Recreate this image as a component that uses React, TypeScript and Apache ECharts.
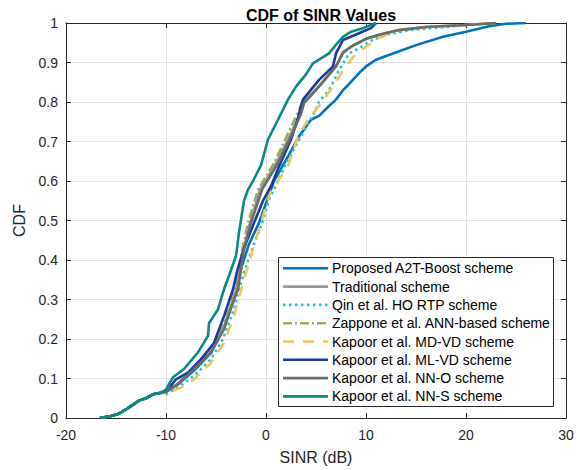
import React, { useEffect, useRef } from "react";
import * as echarts from "echarts";

const seriesNames = [
  "Proposed A2T-Boost scheme",
  "Traditional scheme",
  "Qin et al. HO RTP scheme",
  "Zappone et al. ANN-based scheme",
  "Kapoor et al. MD-VD scheme",
  "Kapoor et al. ML-VD scheme",
  "Kapoor et al. NN-O scheme",
  "Kapoor et al. NN-S scheme",
];

const xTicks = [-20, -10, 0, 10, 20, 30];
const yTicks = [0, 0.1, 0.2, 0.3, 0.4, 0.5, 0.6, 0.7, 0.8, 0.9, 1];

const lowerTail: number[][] = [
  [-16.6, 0], [-15.5, 0.005], [-14.8, 0.01], [-13.8, 0.025], [-12.7, 0.044],
  [-12, 0.05], [-11.3, 0.06], [-10.5, 0.064],
];

const proposed: number[][] = [
  ...lowerTail,
  [-10, 0.066], [-8.8, 0.085], [-7.2, 0.12], [-5.5, 0.165], [-4.2, 0.23],
  [-3.1, 0.31], [-2.6, 0.37], [-1.7, 0.44], [-0.7, 0.494], [0.8, 0.6],
  [2.2, 0.662], [3.3, 0.713], [4.5, 0.755], [5.3, 0.765], [6.3, 0.79],
  [7.0, 0.806], [7.7, 0.83], [8.3, 0.845], [9.3, 0.873], [10, 0.89],
  [11, 0.907], [12.7, 0.923], [15, 0.944], [17.7, 0.965], [20, 0.978],
  [22.3, 0.992], [24, 0.998], [26, 1],
];

const traditional: number[][] = [
  ...lowerTail,
  [-10, 0.066], [-8.8, 0.087], [-7.2, 0.125], [-5.5, 0.168], [-4.2, 0.228],
  [-3.3, 0.3], [-2.9, 0.33], [-2.3, 0.42], [-1.6, 0.494], [-0.6, 0.578],
  [1.0, 0.645], [2.4, 0.715], [3.5, 0.775], [3.8, 0.8], [5.3, 0.84],
  [7.0, 0.89], [7.7, 0.925], [8.5, 0.94], [10, 0.96], [11.3, 0.97],
  [13.3, 0.982], [16, 0.99], [20, 0.995], [23, 1],
];

const qin: number[][] = [
  ...lowerTail,
  [-10, 0.06], [-8.5, 0.082], [-7.2, 0.107], [-5.5, 0.149], [-4.3, 0.2],
  [-3.2, 0.275], [-2.2, 0.37], [-1.2, 0.44], [-0.3, 0.5], [0.3, 0.553],
  [1.2, 0.6], [2.2, 0.654], [3.5, 0.713], [4.8, 0.772], [5.3, 0.8],
  [6.3, 0.83], [7.3, 0.88], [8.3, 0.923], [9.3, 0.936], [10.5, 0.955],
  [12, 0.97], [14.3, 0.982], [19.3, 0.993], [23, 1],
];

const zappone: number[][] = [
  ...lowerTail,
  [-10, 0.066], [-8.8, 0.088], [-7.2, 0.126], [-5.6, 0.17], [-4.3, 0.23],
  [-3.4, 0.3], [-3.2, 0.326], [-2.5, 0.41], [-1.8, 0.494], [-0.8, 0.578],
  [0.8, 0.645], [2.2, 0.72], [3.5, 0.79], [5.3, 0.84], [7.0, 0.89],
  [7.7, 0.925], [8.5, 0.94], [10, 0.96], [11.3, 0.97], [13.3, 0.982],
  [16, 0.99], [20, 0.995], [23, 1],
];

const mdvd: number[][] = [
  ...lowerTail,
  [-10, 0.062], [-8.5, 0.077], [-7.2, 0.098], [-5.5, 0.14], [-4.2, 0.19],
  [-3.2, 0.258], [-2.3, 0.343], [-1.5, 0.41], [-0.5, 0.494], [0.5, 0.578],
  [1.2, 0.6], [2.2, 0.637], [3.2, 0.713], [4.2, 0.755], [5.3, 0.79],
  [6.7, 0.839], [7.7, 0.88], [9, 0.923], [10, 0.94], [11.3, 0.962],
  [13.3, 0.982], [16, 0.99], [20, 0.995], [23, 1],
];

const mlvd: number[][] = [
  ...lowerTail,
  [-10, 0.068], [-9.6, 0.075], [-9.5, 0.082], [-9, 0.098], [-7.8, 0.115],
  [-6.5, 0.149], [-5.2, 0.19], [-4.2, 0.258], [-3.3, 0.326], [-2.9, 0.37],
  [-2.2, 0.43], [-1.2, 0.494], [-0.3, 0.55], [0.5, 0.587], [1.3, 0.637],
  [2.5, 0.705], [3.2, 0.76], [3.5, 0.79], [3.7, 0.806], [5.3, 0.856],
  [6.7, 0.89], [7.0, 0.923], [7.7, 0.957], [9.3, 0.974], [10.5, 0.987],
  [11, 1],
];

const nno: number[][] = [
  ...lowerTail,
  [-10, 0.066], [-8.8, 0.086], [-7.2, 0.124], [-5.5, 0.166], [-4.2, 0.225],
  [-3.2, 0.3], [-2.8, 0.326], [-2.2, 0.427], [-1.5, 0.494], [-0.4, 0.578],
  [1.2, 0.645], [2.5, 0.713], [3.5, 0.77], [3.8, 0.797], [5.3, 0.839],
  [7.0, 0.89], [7.7, 0.925], [8.5, 0.94], [10, 0.96], [11.3, 0.97],
  [13.3, 0.982], [16, 0.99], [20, 0.995], [23, 1],
];

const nns: number[][] = [
  ...lowerTail,
  [-10, 0.072], [-9.7, 0.086], [-9.3, 0.103], [-8.2, 0.124], [-6.8, 0.166],
  [-5.8, 0.208], [-5.7, 0.24], [-4.8, 0.275], [-4.2, 0.326], [-3.7, 0.36],
  [-3.0, 0.41], [-2.7, 0.47], [-2.2, 0.55], [-1.8, 0.578], [-1.3, 0.6],
  [-0.5, 0.64], [0.2, 0.705], [1.2, 0.755], [2.2, 0.806], [3.0, 0.839],
  [4.0, 0.87], [4.7, 0.898], [6.3, 0.923], [7.0, 0.945], [7.7, 0.965],
  [8.5, 0.978], [9.7, 0.987], [11, 1],
];

const seriesData = [proposed, traditional, qin, zappone, mdvd, mlvd, nno, nns];
const seriesColors = ["#0072BD", "#9A9A9A", "#1CC6CF", "#93AE5E", "#EDC660", "#1B3A9E", "#6B6B6B", "#098A84"];
const seriesDash: any[] = ["solid", "solid", [2.5, 3.5], [9, 3, 2, 3], [11, 9], "solid", "solid", "solid"];

const FONT = "'Liberation Sans', Arial, Helvetica, sans-serif";
const AX = "#262626";

export default function App() {
  const ref = useRef<HTMLDivElement>(null);
  useEffect(() => {
    if (!ref.current) return;
    const chart = echarts.init(ref.current, undefined, { renderer: "svg" });
    const axisCommon = {
      type: "value" as const,
      axisLine: { show: true, onZero: false, lineStyle: { color: AX, width: 1 } },
      axisTick: { show: true, inside: true, length: 5, lineStyle: { color: AX } },
    };

    const legX = 278, legY = 257, legW = 275, legH = 149;
    const rowH = 18.3, row0 = 268.3;
    const legendEls: any[] = [
      {
        type: "rect",
        shape: { x: legX + 0.5, y: legY + 0.5, width: legW, height: legH },
        style: { fill: "#ffffff", stroke: AX, lineWidth: 1 },
        z: 100,
      },
    ];
    seriesNames.forEach((name, i) => {
      const cy = row0 + i * rowH;
      const dash = seriesDash[i];
      legendEls.push({
        type: "line",
        shape: { x1: 283, y1: cy, x2: 328, y2: cy },
        style: {
          stroke: seriesColors[i],
          lineWidth: 2.6,
          lineDash: Array.isArray(dash) ? dash : null,
        },
        z: 101,
      });
      legendEls.push({
        type: "text",
        x: 332,
        y: cy,
        style: {
          text: name,
          fill: "#000000",
          fontSize: 14,
          fontFamily: FONT,
          align: "left",
          verticalAlign: "middle",
        },
        z: 101,
      });
    });

    chart.setOption({
      animation: false,
      backgroundColor: "#ffffff",
      textStyle: { fontFamily: FONT },
      title: {
        text: "CDF of SINR Values",
        left: 316,
        textAlign: "center",
        top: 2,
        textStyle: { fontFamily: FONT, fontSize: 16, fontWeight: "bold", color: "#000" },
      },
      grid: { left: 66, right: 18, top: 23, bottom: 51, containLabel: false },
      xAxis: [
        {
          ...axisCommon,
          position: "bottom",
          min: xTicks[0],
          max: xTicks[xTicks.length - 1],
          interval: 10,
          name: "SINR (dB)",
          nameLocation: "middle",
          nameGap: 31,
          nameTextStyle: { fontFamily: FONT, fontSize: 16, color: AX },
          axisLabel: { color: AX, fontSize: 14, fontFamily: FONT, margin: 10 },
          splitLine: { show: true, lineStyle: { color: "#E3E3E3", width: 1 } },
        },
        {
          ...axisCommon,
          position: "top",
          min: xTicks[0],
          max: xTicks[xTicks.length - 1],
          interval: 10,
          axisLabel: { show: false },
          splitLine: { show: false },
        },
      ],
      yAxis: [
        {
          ...axisCommon,
          position: "left",
          min: yTicks[0],
          max: yTicks[yTicks.length - 1],
          interval: 0.1,
          name: "CDF",
          nameLocation: "middle",
          nameGap: 37,
          nameTextStyle: { fontFamily: FONT, fontSize: 16, color: AX },
          axisLabel: { color: AX, fontSize: 14, fontFamily: FONT, margin: 8 },
          splitLine: { show: true, lineStyle: { color: "#E3E3E3", width: 1 } },
        },
        {
          ...axisCommon,
          position: "right",
          min: yTicks[0],
          max: yTicks[yTicks.length - 1],
          interval: 0.1,
          axisLabel: { show: false },
          splitLine: { show: false },
        },
      ],
      graphic: { elements: legendEls },
      series: seriesNames.map((name, i) => ({
        name,
        type: "line",
        xAxisIndex: 0,
        yAxisIndex: 0,
        data: seriesData[i],
        showSymbol: false,
        symbol: "none",
        smooth: false,
        color: seriesColors[i],
        lineStyle: { color: seriesColors[i], width: 2.6, type: seriesDash[i] },
        z: 2 + i,
      })),
    });
    return () => chart.dispose();
  }, []);
  return (
    <div
      ref={ref}
      style={{ position: "fixed", left: 0, top: 0, width: 584, height: 470, background: "#fff" }}
    />
  );
}
